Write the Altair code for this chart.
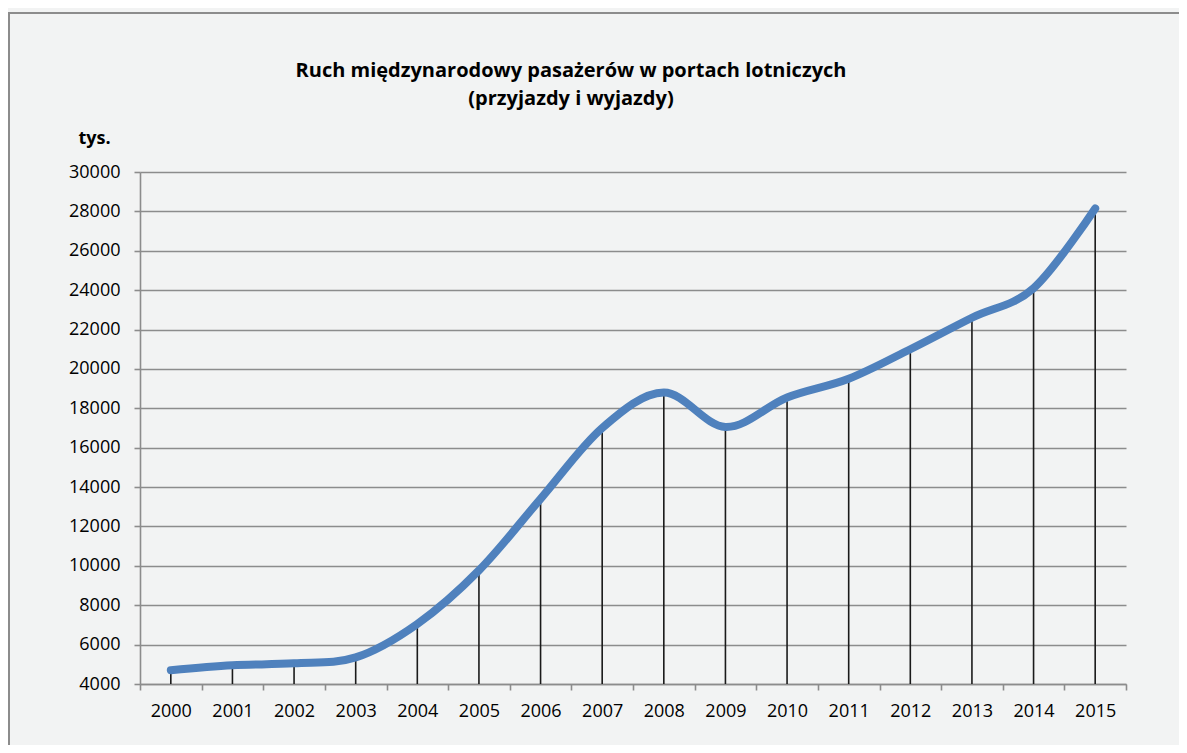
import altair as alt
import pandas as pd

years = [str(y) for y in range(2000, 2016)]
values = [4700, 4950, 5050, 5350, 7050, 9770, 13400, 17000, 18800, 17050, 18550, 19500, 21000, 22600, 24100, 28150]
title_lines = ["Ruch międzynarodowy pasażerów w portach lotniczych", "(przyjazdy i wyjazdy)"]
y_title = "tys."
y_ticks = list(range(4000, 30001, 2000))
y_min, y_max = 4000, 30000

df = pd.DataFrame({"rok": years, "wartosc": values})
FONT = "Open Sans"
GRAY = "#8c8c8c"

x_enc = alt.X(
    "rok:N",
    sort=years,
    scale=alt.Scale(type="band", paddingInner=0, paddingOuter=0),
    axis=alt.Axis(title=None, labelAngle=0, tickBand="extent", grid=False,
                  labelPadding=12, tickSize=6),
)
y_enc = alt.Y(
    "wartosc:Q",
    scale=alt.Scale(domain=[y_min, y_max], nice=False, zero=False),
    axis=alt.Axis(values=y_ticks, format="d", title=y_title, grid=True, tickSize=6, labelPadding=14,
                  titleAngle=0, titleX=-46, titleY=-34, titleAlign="center",
                  titleBaseline="middle", titleFont=FONT, titleFontSize=18,
                  titleFontWeight="bold", titleColor="black"),
)

frame = alt.Chart(pd.DataFrame({"a": [0]})).mark_rect(
    fill=None, stroke=GRAY, strokeWidth=2
).encode(x=alt.value(-131), x2=alt.value(1100), y=alt.value(-159), y2=alt.value(700))

rules = alt.Chart(df).mark_rule(color="#1a1a1a", strokeWidth=1.6).encode(
    x=x_enc, y=y_enc, y2=alt.datum(y_min)
)

line = alt.Chart(df).mark_line(
    color="#4F81BD", strokeWidth=8, interpolate="cardinal", strokeCap="round", strokeJoin="round"
).encode(x=x_enc, y=y_enc)

chart = (
    alt.layer(frame, rules, line)
    .properties(
        width=986,
        height=512,
        autosize=alt.AutoSizeParams(type="none"),
        padding={"left": 132, "top": 164, "right": 53, "bottom": 61},
        background="#f2f3f3",
        title=alt.TitleParams(
            text=title_lines, font=FONT, fontSize=20, fontWeight="bold", color="black",
            anchor="middle", frame="group", dx=-62, offset=0, dy=97, lineHeight=28,
        ),
    )
    .configure_view(stroke=None, fill=None)
    .configure_axis(
        domainColor=GRAY, domainWidth=1.6, tickColor=GRAY, tickWidth=1.6,
        gridColor=GRAY, gridWidth=1.6, labelFont=FONT, labelFontSize=18,
        labelColor="black",
    )
)

chart.save("out.html", embed_options={"renderer": "svg", "actions": False})
